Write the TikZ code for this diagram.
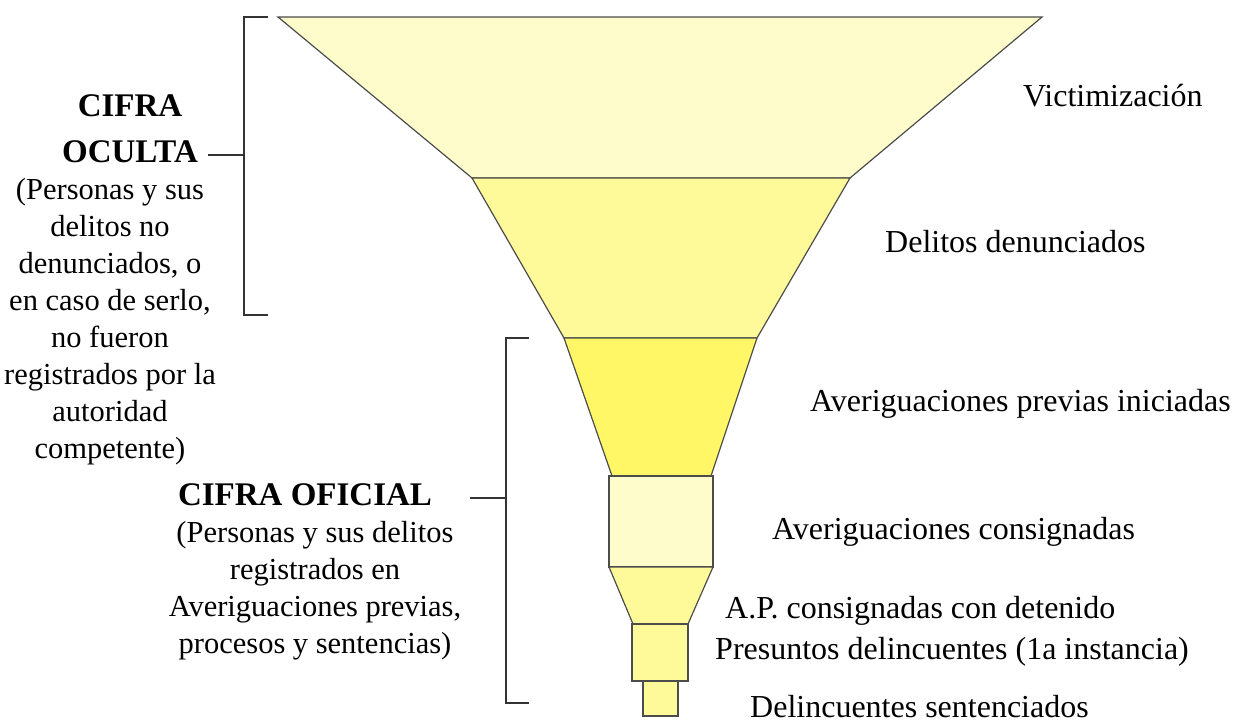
\documentclass[tikz,border=0pt]{standalone}
\usepackage{fontspec}
\setmainfont{Liberation Serif}
\usepackage{xcolor}

\begin{document}
\begin{tikzpicture}[x=1pt, y=-1pt, line join=miter,
    seg/.style={draw=black!70, line width=1.2pt},
    brace/.style={draw=black!80, line width=1.3pt},
    cifra/.style={font=\fontsize{33}{46}\selectfont\bfseries, align=center, anchor=base},
    nota/.style={font=\fontsize{30.5}{36.9}\selectfont, align=center, anchor=base},
    lbl/.style={font=\fontsize{32}{38}\selectfont, anchor=base west, inner sep=0pt}]
    \useasboundingbox (0,0) rectangle (1234,722);
    % Funnel
    \filldraw[seg, fill=yellow!20] (278,17) -- (1042,17) -- (850,178) -- (472,178) -- cycle;
    \filldraw[seg, fill=yellow!40] (472,178) -- (850,178) -- (757,338) -- (564,338) -- cycle;
    \filldraw[seg, fill=yellow!60] (564,338) -- (757,338) -- (711,476) -- (612,476) -- cycle;
    \filldraw[seg, fill=yellow!20] (609,476) rectangle (713,567);
    \filldraw[seg, fill=yellow!40] (609,567) -- (713,567) -- (688,624) -- (633,624) -- cycle;
    \filldraw[seg, fill=yellow!40] (632,624) rectangle (688,681);
    \filldraw[seg, fill=yellow!40] (643,681) rectangle (678,716);
    % Stage labels
    \foreach \n/\x/\y/\t in {vic/1023/107/Victimización,
        den/885/252/Delitos denunciados,
        api/810/411/Averiguaciones previas iniciadas,
        apc/772/539/Averiguaciones consignadas,
        apd/725/618/A.P. consignadas con detenido,
        pre/715/659/Presuntos delincuentes (1a instancia),
        sen/750/717/Delincuentes sentenciados}
        \node[lbl] (\n) at (\x,\y) {\t};
    % Cifra oculta (base = last line)
    \node[cifra] (oculta) at (130,163) {CIFRA\\OCULTA};
    \node[nota] (ocultaTxt) at (110,458) {(Personas y sus\\delitos no\\denunciados, o\\en caso de serlo,\\no fueron\\registrados por la\\autoridad\\competente)};
    \coordinate (ocA) at (268,17); \coordinate (ocB) at (244,17);
    \coordinate (ocC) at (244,315); \coordinate (ocD) at (268,315);
    \coordinate (ocM) at (244,155); \coordinate (ocT) at (208,155);
    \draw[brace] (ocA) -- (ocB) -- (ocC) -- (ocD);
    \draw[brace] (ocT) -- (ocM);
    % Cifra oficial
    \node[cifra] (oficial) at (305,505) {CIFRA OFICIAL};
    \node[nota] (oficialTxt) at (315,653) {(Personas y sus delitos\\registrados en\\Averiguaciones previas,\\procesos y sentencias)};
    \coordinate (ofA) at (529,338); \coordinate (ofB) at (506,338);
    \coordinate (ofC) at (506,703); \coordinate (ofD) at (529,703);
    \coordinate (ofM) at (506,498); \coordinate (ofT) at (470,498);
    \draw[brace] (ofA) -- (ofB) -- (ofC) -- (ofD);
    \draw[brace] (ofT) -- (ofM);
\end{tikzpicture}
\end{document}
